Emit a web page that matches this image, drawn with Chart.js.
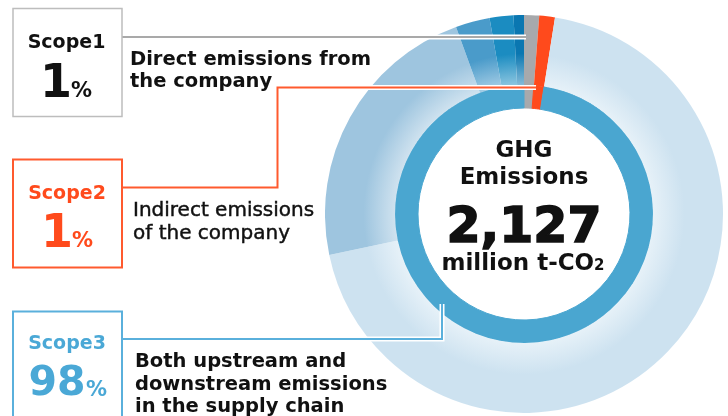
<!DOCTYPE html>
<html lang="en">
<head>
<meta charset="utf-8">
<title>GHG Emissions</title>
<script src="https://cdn.jsdelivr.net/npm/chart.js@4.4.1/dist/chart.umd.min.js"></script>
<style>
  html, body { margin: 0; padding: 0; background: #fff; }
  #stage { position: relative; width: 728px; height: 416px; overflow: hidden; }
  #chartBox { position: absolute; left: 325px; top: 15px; width: 398px; height: 398px; }
  #overlay { position: absolute; left: 0; top: 0; pointer-events: none; }
  #overlay text { font-family: "DejaVu Sans", sans-serif; font-weight: 700; fill: #111; }
  #overlay .desc { font-size: 19.5px; }
  #overlay .light { font-weight: 400; stroke: #111; stroke-width: 0.45px; font-size: 20px; }
  #overlay .scope { font-size: 19px; text-anchor: middle; }
  #overlay .big { font-size: 46px; text-anchor: middle; stroke-width: 1px; }
  #overlay .unit { font-size: 21px; }
  #overlay .center { text-anchor: middle; font-size: 23px; }
  #overlay .total { text-anchor: middle; font-size: 49px; stroke: #111; stroke-width: 1.6px; }
  .halo { fill: none; stroke: #fff; stroke-width: 5; }
</style>
</head>
<body>
<div id="stage">
  <div id="chartBox"><canvas id="ghgChart"></canvas></div>
  <svg id="overlay" width="728" height="416">
    <!-- leader lines -->
    <path class="halo" d="M122 37 H526" />
    <path d="M122 37 H526" stroke="#a9a9a9" stroke-width="2" fill="none" />
    <path class="halo" d="M122 187.5 H277.5 V87.5 H536" />
    <path d="M122 187.5 H277.5 V87.5 H536" stroke="#ff5a2e" stroke-width="2" fill="none" />
    <path class="halo" d="M122 339 H442 V304" />
    <path d="M122 339 H442 V304" stroke="#5ab0dc" stroke-width="2" fill="none" />

    <!-- Scope1 -->
    <rect x="13" y="8.5" width="109" height="108" fill="#fff" stroke="#bdbdbd" stroke-width="1.5" />
    <text class="scope" x="66.5" y="48">Scope1</text>
    <text class="big" x="56" y="97" id="pct1"></text>
    <text class="unit" x="71" y="97">%</text>
    <text class="desc" x="130" y="65">Direct emissions from</text>
    <text class="desc" x="130" y="87">the company</text>

    <!-- Scope2 -->
    <rect x="13" y="159.5" width="109" height="108" fill="#fff" stroke="#ff5a2e" stroke-width="2" />
    <text class="scope" x="67" y="199" style="fill:#ff4a1c">Scope2</text>
    <text class="big" x="57" y="247" id="pct2" style="fill:#ff4a1c"></text>
    <text class="unit" x="72" y="247" style="fill:#ff4a1c">%</text>
    <text class="desc light" x="133" y="216">Indirect emissions</text>
    <text class="desc light" x="133" y="239">of the company</text>

    <!-- Scope3 -->
    <rect x="13" y="311.5" width="109" height="120" fill="#fff" stroke="#5ab0dc" stroke-width="2" />
    <text class="scope" x="67" y="349" style="fill:#4aa8d6">Scope3</text>
    <text class="big" x="57" y="395" id="pct3" style="fill:#4aa8d6; font-size:41px"></text>
    <text class="unit" x="86" y="396" style="fill:#4aa8d6">%</text>
    <text class="desc" x="135" y="367">Both upstream and</text>
    <text class="desc" x="135" y="390">downstream emissions</text>
    <text class="desc" x="135" y="412">in the supply chain</text>

    <!-- centre -->
    <text class="center" x="524" y="157">GHG</text>
    <text class="center" x="524" y="184">Emissions</text>
    <text class="total" x="524" y="242" id="totalText"></text>
    <text class="center" x="523" y="270">million t-CO<tspan style="font-size:15px">2</tspan></text>
  </svg>
</div>

<script>
// Emissions by scope, million t-CO2
const scopeLabels = ['Scope1', 'Scope2', 'Scope3'];
const scopeValues = [26, 27, 2074];
const scopeColors = ['#a7a9ac', '#ff4a1c', '#4aa6d0'];

// Scope3 split shown on the outer ring
const scope3Labels = ['Scope3 A', 'Scope3 B', 'Scope3 C', 'Scope3 D', 'Scope3 E'];
const scope3Values = [1472, 484, 59, 41, 18];
const scope3Colors = ['#cde2f0', '#9ec5df', '#4a9bca', '#1b8cc1', '#0a77b1'];

// ring geometry
const CUTOUT = 106 / 199;
const INNER_WEIGHT = 23;
const OUTER_WEIGHT = 70;

const outerLabels = [scopeLabels[0], scopeLabels[1]].concat(scope3Labels);
const outerValues = [scopeValues[0], scopeValues[1]].concat(scope3Values);
const outerColors = [scopeColors[0], scopeColors[1]].concat(scope3Colors);

const total = scopeValues.reduce((a, b) => a + b, 0);
document.getElementById('totalText').textContent = total.toLocaleString('en-US');
['pct1', 'pct2', 'pct3'].forEach((id, i) => {
  document.getElementById(id).textContent = Math.round(scopeValues[i] / total * 100);
});

// mix a hex colour toward white
function lighten(hex, amt) {
  const n = parseInt(hex.slice(1), 16);
  const r = (n >> 16) & 255, g = (n >> 8) & 255, b = n & 255;
  const m = c => Math.round(c + (255 - c) * amt);
  return `rgb(${m(r)},${m(g)},${m(b)})`;
}

// scope3 slices get a soft light band next to the inner ring
function outerFill(context) {
  const i = context.dataIndex;
  const base = outerColors[i];
  if (i < 2) return base;
  const chart = context.chart;
  const area = chart.chartArea;
  if (!area) return base;
  const cx = (area.left + area.right) / 2;
  const cy = (area.top + area.bottom) / 2;
  const R = Math.min(area.width, area.height) / 2;
  const r0 = R * CUTOUT;
  const split = r0 + (R - r0) * INNER_WEIGHT / (INNER_WEIGHT + OUTER_WEIGHT);
  const grad = chart.ctx.createRadialGradient(cx, cy, split, cx, cy, R);
  grad.addColorStop(0, lighten(base, 0.5));
  grad.addColorStop(0.45, base);
  grad.addColorStop(1, base);
  return grad;
}

new Chart(document.getElementById('ghgChart'), {
  type: 'doughnut',
  data: {
    labels: outerLabels,
    datasets: [{
      data: outerValues,
      backgroundColor: outerFill,
      borderWidth: 0,
      weight: OUTER_WEIGHT,
    }, {
      data: scopeValues,
      backgroundColor: scopeColors,
      borderColor: scopeColors,
      borderWidth: 1,
      weight: INNER_WEIGHT,
    }]
  },
  options: {
    responsive: true,
    maintainAspectRatio: false,
    animation: false,
    cutout: (CUTOUT * 100) + '%',
    rotation: 0,
    layout: { padding: 0 },
    plugins: {
      legend: { display: false },
      tooltip: { enabled: false },
    }
  }
});
</script>
</body>
</html>
